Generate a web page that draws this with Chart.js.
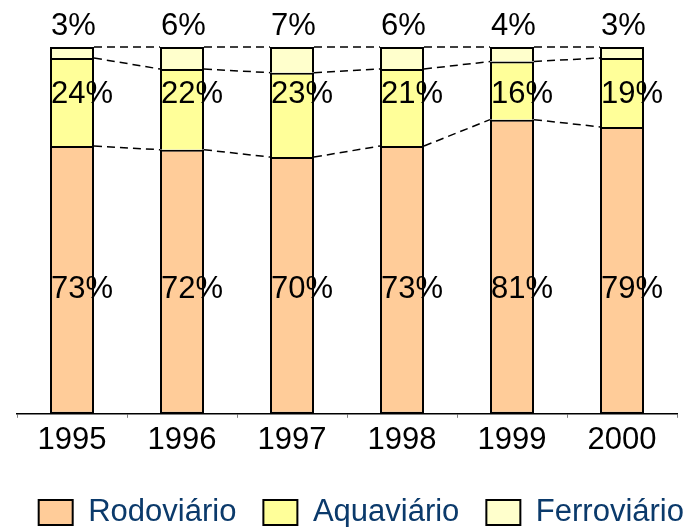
<!DOCTYPE html>
<html>
<head>
<meta charset="utf-8">
<script src="https://cdn.jsdelivr.net/npm/chart.js@4/dist/chart.umd.min.js"></script>
<style>
  html, body { margin: 0; padding: 0; background: #fff; }
  #wrap { width: 690px; height: 527px; }
</style>
</head>
<body>
<div id="wrap"><canvas id="modal"></canvas></div>
<script>
// share of each mode per year (%)
const years = ['1995', '1996', '1997', '1998', '1999', '2000'];
const rodoviario = [73, 72, 70, 73, 81, 79];
const aquaviario = [24, 22, 23, 21, 16, 19];
const ferroviario = [3, 6, 7, 6, 4, 3];

const FONT = 'Arial, "Liberation Sans", sans-serif';

// the rounded shares don't always add to 100, so stack heights use the normalised share
const totals = years.map((_, i) => rodoviario[i] + aquaviario[i] + ferroviario[i]);
const norm = arr => arr.map((v, i) => v / totals[i] * 100);

const series = [
  { label: 'Rodoviário', raw: rodoviario, color: '#FFCC99' },
  { label: 'Aquaviário', raw: aquaviario, color: '#FFFF99' },
  { label: 'Ferroviário', raw: ferroviario, color: '#FFFFCC' }
];

// dashed lines joining the segment tops of neighbouring bars
const seriesLines = {
  id: 'seriesLines',
  afterDatasetsDraw(chart) {
    const ctx = chart.ctx;
    ctx.save();
    ctx.strokeStyle = '#000';
    ctx.lineWidth = 1.5;
    ctx.setLineDash([8, 5]);
    chart.data.datasets.forEach((ds, di) => {
      const bars = chart.getDatasetMeta(di).data;
      for (let i = 0; i < bars.length - 1; i++) {
        const a = bars[i], b = bars[i + 1];
        ctx.beginPath();
        ctx.moveTo(a.x + a.width / 2, a.y);
        ctx.lineTo(b.x - b.width / 2, b.y);
        ctx.stroke();
      }
    });
    ctx.restore();
  }
};

// percentage labels: two rows inside the bars, one row above them
const valueLabels = {
  id: 'valueLabels',
  afterDatasetsDraw(chart) {
    const ctx = chart.ctx;
    const yScale = chart.scales.y;
    const rows = [yScale.getPixelForValue(34), yScale.getPixelForValue(87), chart.chartArea.top - 21];
    ctx.save();
    ctx.font = '31px ' + FONT;
    ctx.fillStyle = '#000';
    ctx.textAlign = 'left';
    ctx.textBaseline = 'middle';
    series.forEach((s, di) => {
      const bars = chart.getDatasetMeta(di).data;
      bars.forEach((bar, i) => {
        ctx.fillText(s.raw[i] + '%', bar.x - bar.width / 2 + 1, rows[di]);
      });
    });
    ctx.restore();
  }
};

// empty side axes only reserve room so the legend can use the full width
const spacer = w => ({
  display: true,
  grid: { display: false },
  border: { display: false },
  ticks: { display: false },
  afterFit: s => { s.width = w; }
});

new Chart(document.getElementById('modal'), {
  type: 'bar',
  data: {
    labels: years,
    datasets: series.map((s, di) => ({
      label: s.label,
      data: norm(s.raw),
      backgroundColor: s.color,
      borderColor: '#000',
      borderWidth: 2,
      // upper segments reuse the top edge of the segment below
      borderSkipped: di === 0 ? false : 'start',
      categoryPercentage: 1,
      barPercentage: 0.4
    }))
  },
  options: {
    responsive: true,
    maintainAspectRatio: false,
    animation: false,
    layout: { padding: { left: 0, right: -21, top: 47, bottom: -11 } },
    scales: {
      x: {
        stacked: true,
        offset: true,
        grid: {
          offset: true,
          drawOnChartArea: false,
          tickLength: 4,
          tickColor: '#808080'
        },
        border: { color: '#000', width: 1.5 },
        ticks: { color: '#000', font: { family: FONT, size: 31 }, padding: 4 },
        afterFit: s => { s.height += 7; }
      },
      y: { stacked: true, min: 0, max: 100, ...spacer(17), position: 'left' },
      y2: { ...spacer(34), position: 'right' }
    },
    plugins: {
      legend: {
        position: 'bottom',
        align: 'end',
        labels: {
          color: '#0B3A6B',
          font: { family: FONT, size: 31 },
          boxWidth: 34,
          boxHeight: 25,
          padding: 27
        }
      },
      tooltip: { enabled: false }
    }
  },
  plugins: [seriesLines, valueLabels]
});
</script>
</body>
</html>
